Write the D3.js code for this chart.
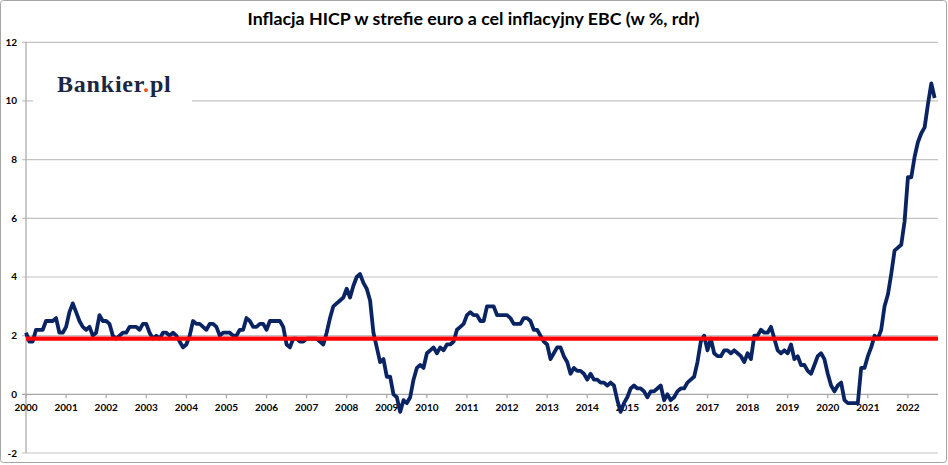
<!DOCTYPE html>
<html>
  <head>
    <meta charset='UTF-8'/>
    <script src="https://cdn.jsdelivr.net/npm/d3@7"></script>
    <style>
      body { margin : 0; background : white; }
      .tick-label {
	  font-family : Lato, "Open Sans", sans-serif;
	  font-weight : bold;
	  font-size : 10px;
	  fill : #000;
      }
    </style>
  </head>
  <body>
    <svg id='fig' width='948' height='465'></svg>
    <script>
      // roczna inflacja HICP w strefie euro, od marca 2000 do listopada 2022 (%)
      const hicp = [
	  2.1, 1.8, 1.8, 2.2, 2.2, 2.2, 2.5, 2.5, 2.5, 2.6,                 // 2000 (III-XII)
	  2.1, 2.1, 2.3, 2.8, 3.1, 2.8, 2.5, 2.3, 2.2, 2.3, 2.0, 2.1,       // 2001
	  2.7, 2.5, 2.5, 2.4, 2.0, 1.9, 2.0, 2.1, 2.1, 2.3, 2.3, 2.3,       // 2002
	  2.2, 2.4, 2.4, 2.1, 1.9, 2.0, 1.9, 2.1, 2.1, 2.0, 2.1, 2.0,       // 2003
	  1.8, 1.6, 1.7, 2.0, 2.5, 2.4, 2.4, 2.3, 2.2, 2.4, 2.4, 2.3,       // 2004
	  2.0, 2.1, 2.1, 2.1, 2.0, 2.0, 2.2, 2.2, 2.6, 2.5, 2.3, 2.3,       // 2005
	  2.4, 2.4, 2.2, 2.5, 2.5, 2.5, 2.5, 2.3, 1.7, 1.6, 1.9, 1.9,       // 2006
	  1.8, 1.8, 1.9, 1.9, 1.9, 1.9, 1.8, 1.7, 2.1, 2.6, 3.0, 3.1,       // 2007
	  3.2, 3.3, 3.6, 3.3, 3.7, 4.0, 4.1, 3.8, 3.6, 3.2, 2.1, 1.6,       // 2008
	  1.1, 1.2, 0.6, 0.6, 0.0, -0.1, -0.6, -0.2, -0.3, -0.1, 0.5, 0.9,  // 2009
	  1.0, 0.9, 1.4, 1.5, 1.6, 1.4, 1.6, 1.5, 1.7, 1.7, 1.8, 2.2,       // 2010
	  2.3, 2.4, 2.7, 2.8, 2.7, 2.7, 2.5, 2.5, 3.0, 3.0, 3.0, 2.7,       // 2011
	  2.7, 2.7, 2.7, 2.6, 2.4, 2.4, 2.4, 2.6, 2.6, 2.5, 2.2, 2.2,       // 2012
	  2.0, 1.8, 1.7, 1.2, 1.4, 1.6, 1.6, 1.3, 1.1, 0.7, 0.9, 0.8,       // 2013
	  0.8, 0.7, 0.5, 0.7, 0.5, 0.5, 0.4, 0.4, 0.3, 0.4, 0.3, -0.2,      // 2014
	  -0.6, -0.3, -0.1, 0.2, 0.3, 0.2, 0.2, 0.1, -0.1, 0.1, 0.1, 0.2,   // 2015
	  0.3, -0.2, 0.0, -0.2, -0.1, 0.1, 0.2, 0.2, 0.4, 0.5, 0.6, 1.1,    // 2016
	  1.8, 2.0, 1.5, 1.9, 1.4, 1.3, 1.3, 1.5, 1.5, 1.4, 1.5, 1.4,       // 2017
	  1.3, 1.1, 1.4, 1.2, 2.0, 2.0, 2.2, 2.1, 2.1, 2.3, 1.9, 1.5,       // 2018
	  1.4, 1.5, 1.4, 1.7, 1.2, 1.3, 1.0, 1.0, 0.8, 0.7, 1.0, 1.3,       // 2019
	  1.4, 1.2, 0.7, 0.3, 0.1, 0.3, 0.4, -0.2, -0.3, -0.3, -0.3, -0.3,  // 2020
	  0.9, 0.9, 1.3, 1.6, 2.0, 1.9, 2.2, 3.0, 3.4, 4.1, 4.9, 5.0,       // 2021
	  5.1, 5.9, 7.4, 7.4, 8.1, 8.6, 8.9, 9.1, 9.9, 10.6, 10.1           // 2022 (I-XI)
      ]
      const target = 1.9   // cel inflacyjny EBC
      const years = ["2000","2001","2002","2003","2004","2005","2006","2007","2008","2009","2010",
		     "2011","2012","2013","2014","2015","2016","2017","2018","2019","2020","2021","2022"]
      const yTicks = [-2, 0, 2, 4, 6, 8, 10, 12]
      const title = "Inflacja HICP w strefie euro a cel inflacyjny EBC (w %, rdr)"

      const W = 948, H = 465
      const pLeft = 26, pRight = 938, pTop = 42.3, pBottom = 453
      var svg = d3.select("#fig")

      var x = d3.scaleLinear().domain([0, hicp.length]).range([pLeft, pRight])
      var y = d3.scaleLinear().domain([-2, 12]).range([pBottom, pTop])

      // ramka wykresu
      svg.append("rect")
	  .attr("x", 0.5).attr("y", 0.5)
	  .attr("width", W - 2).attr("height", H - 3)
	  .attr("rx", 3)
	  .attr("fill", "white")
	  .attr("stroke", "#a5a5a5")

      svg.append("text")
	  .attr("x", 473.5).attr("y", 25)
	  .attr("text-anchor", "middle")
	  .attr("font-family", "Lato, 'Open Sans', sans-serif")
	  .attr("font-weight", "bold")
	  .attr("font-size", 17.5)
	  .attr("textLength", 452)
	  .attr("lengthAdjust", "spacingAndGlyphs")
	  .text(title)

      // linie siatki
      svg.append("g")
	  .selectAll("line")
	  .data(yTicks)
	  .join("line")
	  .attr("x1", pLeft - 4).attr("x2", pRight)
	  .attr("y1", d => y(d)).attr("y2", d => y(d))
	  .attr("stroke", d => d == 0 ? "#a6a6a6" : "#c4c4c4")
	  .attr("stroke-width", 1.2)

      svg.append("g")
	  .selectAll("text")
	  .data(yTicks)
	  .join("text")
	  .attr("class", "tick-label")
	  .attr("x", 17).attr("y", d => y(d) + 3.5)
	  .attr("text-anchor", "end")
	  .text(d => d)

      svg.append("line")
	  .attr("x1", pLeft).attr("x2", pLeft)
	  .attr("y1", pTop).attr("y2", pBottom)
	  .attr("stroke", "#a6a6a6")
	  .attr("stroke-width", 1.2)

      // os X (lata)
      var xt = svg.append("g")
	  .selectAll("g")
	  .data(years)
	  .join("g")
	  .attr("transform", (d, i) => `translate(${x(i*12)},${y(0)})`)
      xt.append("line")
	  .attr("y1", 0).attr("y2", 4)
	  .attr("stroke", "#a6a6a6")
	  .attr("stroke-width", 1.2)
      xt.append("text")
	  .attr("class", "tick-label")
	  .attr("y", 17)
	  .attr("text-anchor", "middle")
	  .text(d => d)

      // logo
      svg.append("rect")
	  .attr("x", 33).attr("y", 62)
	  .attr("width", 159).attr("height", 52)
	  .attr("fill", "white")
      var logo = svg.append("text")
	  .attr("x", 57).attr("y", 92)
	  .attr("font-family", "'Liberation Serif', 'DejaVu Serif', serif")
	  .attr("font-weight", "bold")
	  .attr("font-size", 24)
	  .attr("letter-spacing", 0.8)
	  .attr("fill", "#1c2541")
      logo.append("tspan").text("Bankier")
      logo.append("tspan").attr("fill", "#e8532a").text(".")
      logo.append("tspan").text("pl")

      // inflacja HICP
      svg.append("path")
	  .datum(hicp)
	  .attr("fill", "none")
	  .attr("stroke", "#0a2463")
	  .attr("stroke-width", 3.8)
	  .attr("stroke-linejoin", "round")
	  .attr("d", d3.line().x((d, i) => x(i)).y(d => y(d)))

      // cel inflacyjny
      svg.append("line")
	  .attr("x1", x(0)).attr("x2", x(hicp.length))
	  .attr("y1", y(target)).attr("y2", y(target))
	  .attr("stroke", "#ff0000")
	  .attr("stroke-width", 4.2)
    </script>
  </body>
</html>
